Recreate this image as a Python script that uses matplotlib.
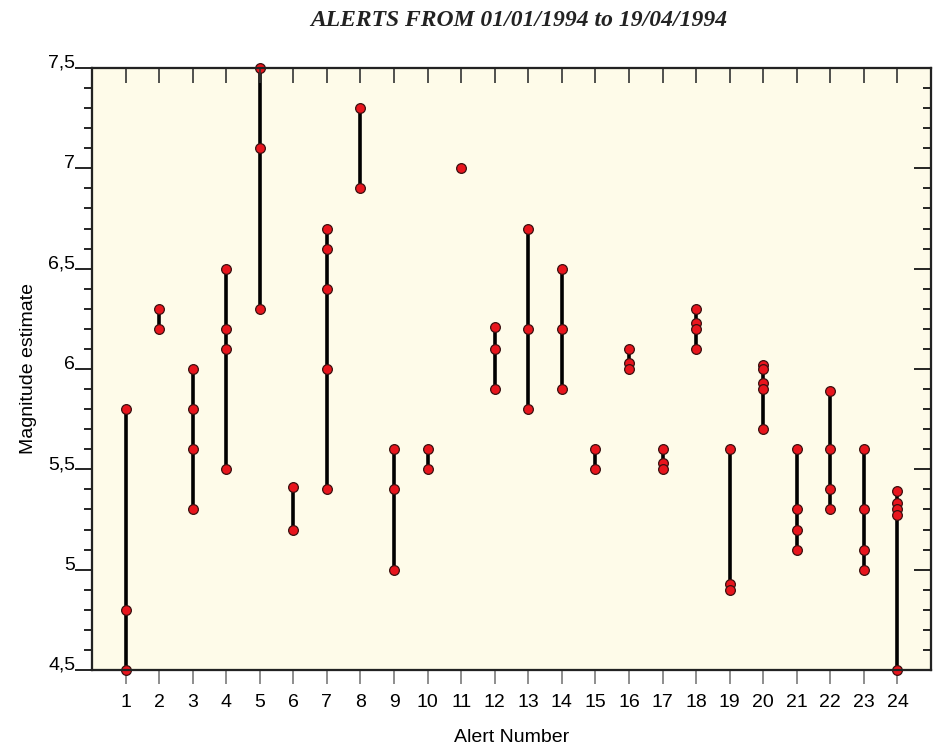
import matplotlib
matplotlib.use("Agg")
import matplotlib.pyplot as plt
from matplotlib.ticker import FixedLocator

alerts = list(range(1, 25))
magnitudes = [
    [5.8, 4.8, 4.5],
    [6.3, 6.2],
    [6.0, 5.8, 5.6, 5.3],
    [6.5, 6.2, 6.1, 5.5],
    [7.5, 7.1, 6.3],
    [5.41, 5.2],
    [6.7, 6.6, 6.4, 6.0, 5.4],
    [7.3, 6.9],
    [5.6, 5.4, 5.0],
    [5.6, 5.5],
    [7.0],
    [6.21, 6.1, 5.9],
    [6.7, 6.2, 5.8],
    [6.5, 6.2, 5.9],
    [5.6, 5.5],
    [6.1, 6.03, 6.0],
    [5.6, 5.53, 5.5],
    [6.3, 6.23, 6.2, 6.1],
    [5.6, 4.93, 4.9],
    [6.02, 6.0, 5.93, 5.9, 5.7],
    [5.6, 5.3, 5.2, 5.1],
    [5.89, 5.6, 5.4, 5.3],
    [5.6, 5.3, 5.1, 5.0],
    [5.39, 5.33, 5.3, 5.27, 4.5],
]
y_ticks = [4.5, 5.0, 5.5, 6.0, 6.5, 7.0, 7.5]
y_tick_labels = ["4,5", "5", "5,5", "6", "6,5", "7", "7,5"]
title = "ALERTS FROM 01/01/1994 to 19/04/1994"

plt.rcParams['font.family'] = ['Liberation Sans', 'DejaVu Sans']

fig = plt.figure(figsize=(9.4, 7.46), dpi=100)
ax = fig.add_axes([92/940, 1-670/746, (931-92)/940, (670-68)/746])
ax.set_facecolor('#fefbe9')

for a, mags in zip(alerts, magnitudes):
    xs = [a] * len(mags)
    if len(mags) > 1:
        ax.plot([a, a], [min(mags), max(mags)], color='black', lw=2.6,
                solid_capstyle='butt', zorder=2, clip_on=False)
    ax.plot(xs, mags, 'o', ms=7, mfc='#e8151d', mec='#3a1010', mew=0.9,
            zorder=3, clip_on=False)

ax.set_xlim(0, 25)
ax.set_ylim(4.5, 7.5)

minor_y = [4.5 + 0.1 * i for i in range(31)]

ax.set_xticks(alerts)
ax.set_xticklabels([str(a) for a in alerts], fontsize=14)
ax.tick_params(axis='x', which='major', direction='out', length=10, width=1.2,
               color='#7a7a7a', pad=7, top=False)
ax.set_yticks(y_ticks)
ax.set_yticklabels(y_tick_labels, fontsize=14)
for lab in ax.get_yticklabels():
    lab.set_verticalalignment('baseline')
ax.yaxis.set_minor_locator(FixedLocator(minor_y))
ax.tick_params(axis='y', which='major', direction='out', length=12, width=1.2, pad=0)
ax.tick_params(axis='y', which='minor', direction='out', length=6, width=1.2)

# right axis ticks (inward)
axr = ax.twinx()
axr.set_ylim(4.5, 7.5)
axr.set_yticks(y_ticks)
axr.yaxis.set_minor_locator(FixedLocator(minor_y))
axr.tick_params(axis='y', which='major', direction='in', length=12, width=1.2, labelright=False)
axr.tick_params(axis='y', which='minor', direction='in', length=5.5, width=1.2)
# top axis ticks (inward)
axt = ax.twiny()
axt.set_xlim(0, 25)
axt.set_xticks(alerts)
axt.tick_params(axis='x', which='major', direction='in', length=11, width=1.2,
                color='#333333', labeltop=False)

for a_ in (ax, axr, axt):
    for s in a_.spines.values():
        s.set_linewidth(1.5)
        s.set_color('#222222')

ax.set_xlabel("Alert Number", fontsize=14, labelpad=13)
ax.set_ylabel("Magnitude estimate", fontsize=14, labelpad=8)

fig.text(519/940, 1-21/746, title, ha='center', va='center', fontsize=17,
         family='Liberation Serif', fontweight='bold', fontstyle='italic', color='#222222')

fig.savefig("out.png", dpi=100)
